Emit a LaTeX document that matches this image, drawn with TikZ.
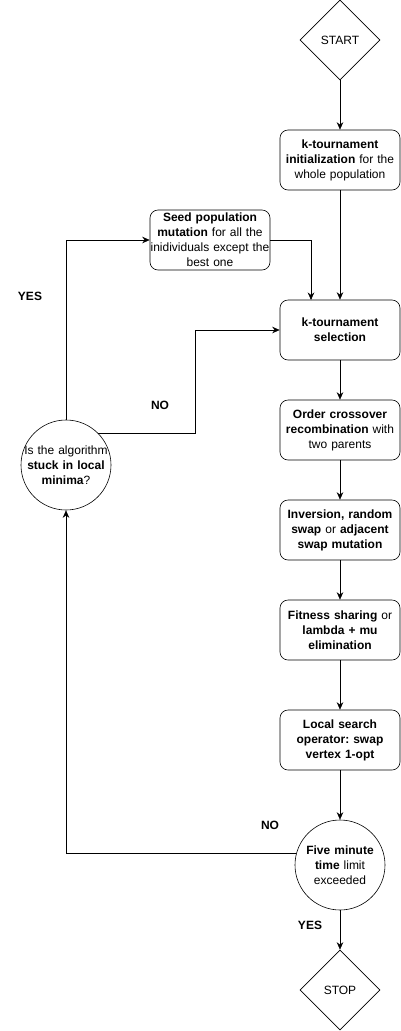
\documentclass[tikz,border=0pt]{standalone}
\usepackage{fontspec}
\setmainfont{Liberation Sans}
\usepackage{tikz}
\usetikzlibrary{shapes.geometric,arrows.meta}
\hyphenpenalty=10000
\exhyphenpenalty=10000
\frenchspacing
\tikzstyle{terminal}=[diamond, draw, minimum width=80pt, minimum height=80pt, inner sep=0pt, aspect=1]
\tikzstyle{stepbox}=[rectangle, draw, rounded corners=8pt, minimum width=120pt, minimum height=60pt, text width=118pt, inner sep=1pt, align=center]
\tikzstyle{decision}=[circle, draw, minimum size=90pt, text width=86pt, inner sep=-5pt, align=center]
\tikzstyle{answer}=[font=\fontsize{12}{15}\selectfont\bfseries]

\begin{document}
\begin{tikzpicture}[x=1pt, y=-1pt, >={Stealth[length=7.5pt,width=6.5pt]}, semithick,
                    every node/.style={font=\fontsize{12}{15}\selectfont}]
                    \useasboundingbox (0,0) rectangle (401,1031);
                    \node[terminal] (start) at (340, 40) {START};
                    \node[stepbox] (init)   at (340,160) {\textbf{k-tournament}\\\textbf{initialization} for the\\whole population};
                    \node[stepbox, text width=119pt, inner sep=0.5pt] (seed) at (210,240) {\textbf{Seed population}\\\textbf{mutation} for all the\\inidividuals except the\\best one};
                    \node[stepbox] (select) at (340,330) {\textbf{k-tournament}\\\textbf{selection}};
                    \node[stepbox] (order)  at (340,430) {\textbf{Order crossover}\\\textbf{recombination} with\\two parents};
                    \node[stepbox] (inv)    at (340,530) {\textbf{Inversion, random}\\\textbf{swap} or \textbf{adjacent}\\\textbf{swap mutation}};
                    \node[stepbox] (fit)    at (340,630) {\textbf{Fitness sharing} or\\\textbf{lambda + mu}\\\textbf{elimination}};
                    \node[stepbox] (local)  at (340,740) {\textbf{Local search}\\\textbf{operator: swap}\\\textbf{vertex 1-opt}};
                    \node[decision] (five)  at (340,865) {\textbf{Five minute}\\\textbf{time} limit\\exceeded};
                    \node[terminal] (stop)  at (340,990) {STOP};
                    \node[decision] (stuck) at (66,465) {Is the algorithm\\\textbf{stuck in local}\\\textbf{minima}?};
                    \coordinate (selin)  at (311,300);
                    \coordinate (noturn) at (195,330);
                    \node[answer] (yes1) at (30,296)  {YES};
                    \node[answer] (no1)  at (160,405) {NO};
                    \node[answer] (no2)  at (270,825) {NO};
                    \node[answer] (yes2) at (310,925) {YES};
                    \draw[->] (start)--(init);
                    \draw[->] (init)--(select);
                    \draw[->] (seed.east) -| (selin);
                    \draw[->] (select)--(order);
                    \draw[->] (order)--(inv);
                    \draw[->] (inv)--(fit);
                    \draw[->] (fit)--(local);
                    \draw[->] (local)--(five);
                    \draw[->] (five)--(stop);
                    \draw[->] (five.165) -| (stuck.south);
                    \draw[->] (stuck.north) |- (seed.west);
                    \draw[->] (stuck.45) -| (noturn) -- (select.west);
                \end{tikzpicture}
\end{document}
